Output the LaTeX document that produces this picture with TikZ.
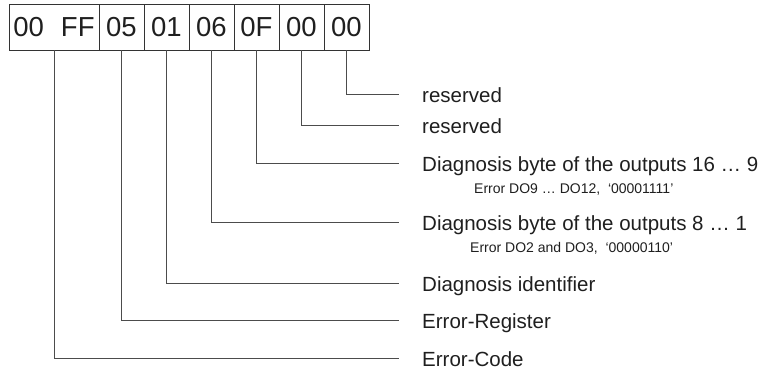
\documentclass[tikz,border=0pt]{standalone}
\usepackage{fontspec}
\setmainfont{Liberation Sans}
\begin{document}
\begin{tikzpicture}[x=1pt,y=-1pt,
  cell/.style={draw=black!80, line width=1pt, minimum height=46pt, minimum width=45pt, inner sep=0pt, outer sep=0pt, text=black!88, font=\fontsize{27.5}{28}\selectfont},
  wire/.style={draw=black!70, line width=1pt},
  lab/.style={anchor=base west, inner sep=0pt, text=black!88, font=\fontsize{20.5}{22}\selectfont},
  sublab/.style={anchor=base west, inner sep=0pt, text=black!88, font=\fontsize{14}{16}\selectfont}]
\useasboundingbox (0,0) rectangle (769,372);
% byte cells
\node[cell, minimum width=90pt] (c0) at (54,27) {00\hspace{17pt}FF};
\node[cell] (c1) at (121.5,27) {05};
\node[cell] (c2) at (166.5,27) {01};
\node[cell] (c3) at (211.5,27) {06};
\node[cell] (c4) at (256.5,27) {0F};
\node[cell] (c5) at (301.5,27) {00};
\node[cell] (c6) at (346.5,27) {00};
% line ends
\coordinate (e6) at (399,94);
\coordinate (e5) at (399,125);
\coordinate (e4) at (399,163);
\coordinate (e3) at (399,222);
\coordinate (e2) at (399,283);
\coordinate (e1) at (399,320);
\coordinate (e0) at (399,358);
% labels
\node[lab] (l6) at (422,102) {reserved};
\node[lab] (l5) at (422,133) {reserved};
\node[lab] (l4) at (422,171) {Diagnosis byte of the outputs 16 … 9};
\node[sublab] (s4) at (474,193) {Error DO9 … DO12,\ \ ‘00001111’};
\node[lab] (l3) at (422,230) {Diagnosis byte of the outputs 8 … 1};
\node[sublab] (s3) at (470,252) {Error DO2 and DO3,\ \ ‘00000110’};
\node[lab] (l2) at (422,291) {Diagnosis identifier};
\node[lab] (l1) at (422,328) {Error-Register};
\node[lab] (l0) at (422,366) {Error-Code};
% connectors
\draw[wire] (c6.south) |- (e6);
\draw[wire] (c5.south) |- (e5);
\draw[wire] (c4.south) |- (e4);
\draw[wire] (c3.south) |- (e3);
\draw[wire] (c2.south) |- (e2);
\draw[wire] (c1.south) |- (e1);
\draw[wire] (c0.south) |- (e0);
\end{tikzpicture}
\end{document}
